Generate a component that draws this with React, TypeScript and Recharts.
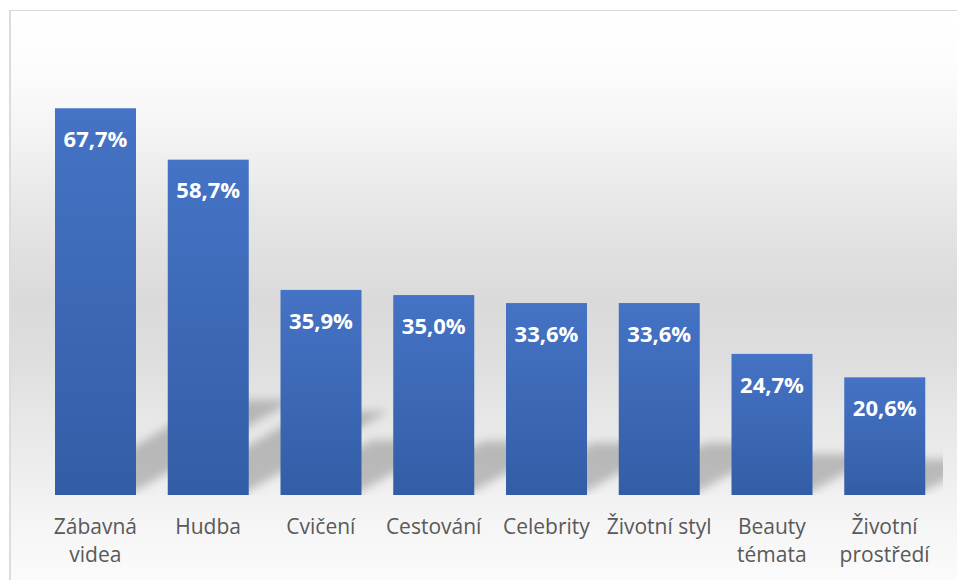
import React from 'react';
import { BarChart, Bar, XAxis, YAxis, LabelList } from 'recharts';

const categories = ['Zábavná videa', 'Hudba', 'Cvičení', 'Cestování', 'Celebrity', 'Životní styl', 'Beauty témata', 'Životní prostředí'];
const tickLines = [['Zábavná', 'videa'], ['Hudba'], ['Cvičení'], ['Cestování'], ['Celebrity'], ['Životní styl'], ['Beauty', 'témata'], ['Životní', 'prostředí']];
const values = [67.7, 58.7, 35.9, 35.0, 33.6, 33.6, 24.7, 20.6];

const data = categories.map((name, i) => ({ name, value: values[i] }));

const W = 957;
const H = 580;
const M = { top: 38, right: 16, bottom: 0, left: 39 };
const XH = 85;

const fmt = (v: number) => v.toFixed(1).replace('.', ',') + '%';

const BarWithShadow = (props: any) => {
  const { x, y, width, height } = props;
  const bottom = y + height;
  const sh = 0.22 * height + 10;
  const dx = sh / 0.6;
  const pts = [
    [x + 2, bottom - 3],
    [x + width - 2, bottom - 3],
    [x + width + dx, bottom - sh],
    [x + dx, bottom - sh],
  ]
    .map((p) => p.join(','))
    .join(' ');
  return (
    <g>
      <polygon points={pts} fill="#858585" fillOpacity={0.5} filter="url(#shBlur)" clipPath="url(#plotClip)" />
      <rect x={x} y={y} width={width} height={height} fill="url(#barGrad)" />
    </g>
  );
};

const Tick = (props: any) => {
  const { x, y, index } = props;
  const lines = tickLines[index] || [];
  return (
    <text x={x} y={y + 39} textAnchor="middle" fill="#595959" fontSize={21} fontFamily="Open Sans">
      {lines.map((l, i) => (
        <tspan key={i} x={x} dy={i === 0 ? 0 : 28}>
          {l}
        </tspan>
      ))}
    </text>
  );
};

export default function App() {
  return (
    <div style={{ position: 'absolute', left: 0, top: 0, width: W, height: H, overflow: 'hidden', background: '#fff' }}>
      <svg width={0} height={0} style={{ position: 'absolute' }}>
        <defs>
          <linearGradient id="barGrad" x1="0" y1="0" x2="0" y2="1">
            <stop offset="0%" stopColor="#4573C5" />
            <stop offset="100%" stopColor="#335DA6" />
          </linearGradient>
          <filter id="shBlur" x="-50%" y="-50%" width="200%" height="200%">
            <feGaussianBlur stdDeviation="5" />
          </filter>
          <clipPath id="plotClip">
            <rect x={M.left} y={M.top} width={W - M.left - M.right + 2} height={H - M.top - XH} />
          </clipPath>
        </defs>
      </svg>
      <div
        style={{
          position: 'absolute',
          left: 9,
          top: 10,
          width: W,
          height: H,
          borderTop: '1px solid #d9d9d9',
          borderLeft: '2px solid #dcdcdc',
          background:
            'linear-gradient(to bottom, #ffffff 0px, #fdfdfd 50px, #f6f6f6 110px, #e6e6e6 200px, #dadada 290px, #dedede 350px, #e6e6e6 400px, #ececec 450px, #f2f2f2 490px, #f6f6f6 520px, #fbfbfb 570px)',
        }}
      />
      <div style={{ position: 'absolute', left: 0, top: 0 }}>
        <BarChart width={W} height={H} data={data} margin={M} barSize={81}>
          <XAxis
            dataKey="name"
            axisLine={false}
            tickLine={false}
            tickSize={0}
            tickMargin={0}
            height={XH}
            interval={0}
            tick={<Tick />}
          />
          <YAxis hide domain={[0, 80]} />
          <Bar dataKey="value" isAnimationActive={false} shape={<BarWithShadow />}>
            <LabelList
              dataKey="value"
              position="insideTop"
              offset={23}
              formatter={(v: any) => fmt(Number(v))}
              fill="#ffffff"
              style={{ fontSize: 22, fontWeight: 700, fontFamily: 'Open Sans' }}
            />
          </Bar>
        </BarChart>
      </div>
    </div>
  );
}
